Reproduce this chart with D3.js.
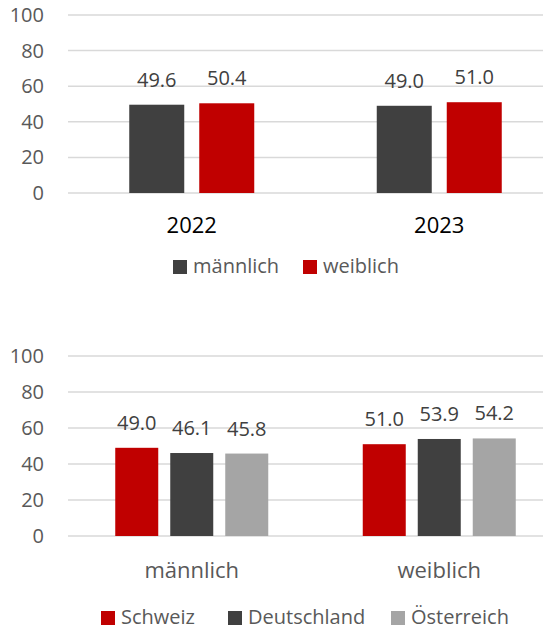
<!DOCTYPE html>
<html>
<head>
<meta charset="utf-8">
<script src="https://cdn.jsdelivr.net/npm/d3@7"></script>
<style>
  body { margin: 0; background: #fff; }
  text { font-family: "Open Sans", sans-serif; }
</style>
</head>
<body>
<script>
// chart 1 data
var years = ["2022", "2023"];
var sexSeries = ["männlich", "weiblich"];
var maleShare = [49.6, 49.0];
var femaleShare = [50.4, 51.0];

// chart 2 data
var sexCats = ["männlich", "weiblich"];
var countries = ["Schweiz", "Deutschland", "Österreich"];
var schweiz = [49.0, 51.0];
var deutschland = [46.1, 53.9];
var oesterreich = [45.8, 54.2];

var yTicks = [0, 20, 40, 60, 80, 100];

var svg = d3.select("body").append("svg")
    .attr("width", 543)
    .attr("height", 629);

function drawChart(opt) {
    var g = svg.append("g");
    var y = d3.scaleLinear().domain([0, 100]).range([opt.bottom, opt.top]);
    var x = d3.scaleBand().domain(opt.cats).range([68, 563]).padding(0);
    var xs = d3.scaleBand().domain(opt.series)
        .range([-opt.groupW / 2, opt.groupW / 2])
        .paddingInner(opt.pad).paddingOuter(0);

    // gridlines
    g.selectAll(".grid").data(yTicks).enter().append("line")
        .attr("x1", 68).attr("x2", 543)
        .attr("y1", function(d) { return y(d); })
        .attr("y2", function(d) { return y(d); })
        .attr("stroke", "#d9d9d9")
        .attr("stroke-width", 1.5);

    // y labels
    g.selectAll(".ylab").data(yTicks).enter().append("text")
        .attr("x", 44)
        .attr("y", function(d) { return y(d); })
        .attr("dy", "0.35em")
        .attr("text-anchor", "end")
        .attr("font-size", 20)
        .attr("fill", "#595959")
        .text(function(d) { return d; });

    // bars
    opt.series.forEach(function(s, si) {
        var vals = opt.values[si];
        g.selectAll(".bar" + si).data(opt.cats).enter().append("rect")
            .attr("x", function(c) { return x(c) + x.bandwidth() / 2 + xs(s); })
            .attr("y", function(c, i) { return y(vals[i]); })
            .attr("width", xs.bandwidth())
            .attr("height", function(c, i) { return y(0) - y(vals[i]); })
            .attr("fill", opt.colors[si]);
        g.selectAll(".lab" + si).data(opt.cats).enter().append("text")
            .attr("x", function(c) { return x(c) + x.bandwidth() / 2 + xs(s) + xs.bandwidth() / 2; })
            .attr("y", function(c, i) { return y(vals[i]) - 18; })
            .attr("text-anchor", "middle")
            .attr("font-size", 20)
            .attr("fill", "#404040")
            .text(function(c, i) { return vals[i].toFixed(1); });
    });

    // category labels
    g.selectAll(".cat").data(opt.cats).enter().append("text")
        .attr("x", function(c) { return x(c) + x.bandwidth() / 2; })
        .attr("y", opt.catY)
        .attr("text-anchor", "middle")
        .attr("font-size", 22)
        .attr("fill", opt.catColor)
        .text(function(c) { return c; });

    // legend
    var leg = g.selectAll(".leg").data(opt.series).enter().append("g")
        .attr("transform", function(d, i) { return "translate(" + opt.legX[i] + "," + opt.legY + ")"; });
    leg.append("rect")
        .attr("x", 0).attr("y", -14)
        .attr("width", 14).attr("height", 14)
        .attr("fill", function(d, i) { return opt.colors[i]; });
    leg.append("text")
        .attr("x", 20).attr("y", 0)
        .attr("dy", "-0.05em")
        .attr("font-size", 20)
        .attr("fill", "#595959")
        .text(function(d) { return d; });
}

drawChart({
    cats: years, series: sexSeries,
    values: [maleShare, femaleShare],
    colors: ["#404040", "#c00000"],
    top: 15, bottom: 193, groupW: 125, pad: 15 / 70,
    catY: 233, catColor: "#000000",
    legX: [173, 303], legY: 274
});

drawChart({
    cats: sexCats, series: countries,
    values: [schweiz, deutschland, oesterreich],
    colors: ["#c00000", "#404040", "#a5a5a5"],
    top: 356, bottom: 536, groupW: 153, pad: 12 / 55,
    catY: 578, catColor: "#595959",
    legX: [101, 228, 391], legY: 625
});
</script>
</body>
</html>
